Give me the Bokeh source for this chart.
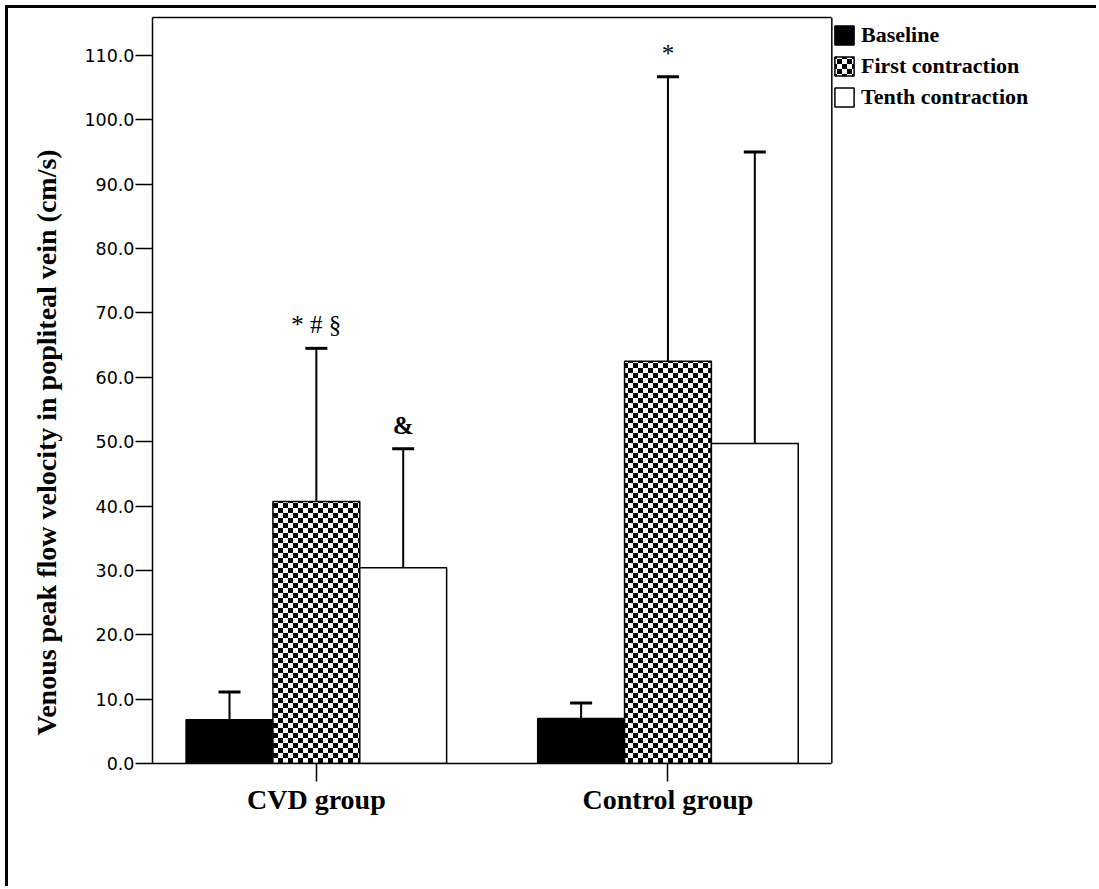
from bokeh.plotting import figure
from bokeh.models import (ColumnDataSource, Range1d, FixedTicker, NumeralTickFormatter,
                          Whisker, TeeHead, Legend, LegendItem, ImageURLTexture,
                          Span, LinearAxis, Title)
from bokeh.core.properties import value
from bokeh.embed import file_html
from bokeh.resources import INLINE

groups = ["CVD group", "Control group"]
series = ["Baseline", "First contraction", "Tenth contraction"]
means = {
    "Baseline": [6.8, 7.0],
    "First contraction": [40.7, 62.5],
    "Tenth contraction": [30.4, 49.7],
}
upper = {
    "Baseline": [11.1, 9.4],
    "First contraction": [64.5, 106.7],
    "Tenth contraction": [48.9, 95.0],
}
marks = {
    "Baseline": ["", ""],
    "First contraction": ["* # §", "*"],
    "Tenth contraction": ["&", ""],
}
y_ticks = [0, 10, 20, 30, 40, 50, 60, 70, 80, 90, 100, 110]
y_title = "Venous peak flow velocity in popliteal vein (cm/s)"

SERIF = "Liberation Serif"
BW = 0.247
X0, X1 = -0.466, 1.466          # extent of the boxed plotting area
X_END = 2.196                   # extra room on the right for the legend

p = figure(width=1091, height=881, output_backend="svg", toolbar_location=None,
           x_range=Range1d(X0, X_END), y_range=Range1d(0, 115.9),
           min_border_left=143, min_border_top=9, min_border_right=11, min_border_bottom=126)
p.styles = {"margin-left": "5px", "margin-top": "5px",
            "border-left": "3px solid black", "border-top": "3px solid black"}
p.xgrid.visible = False
p.ygrid.visible = False
p.outline_line_color = None
p.background_fill_color = "white"

xax = p.below[0]
yax = p.left[0]

checker_svg = ("data:image/svg+xml;utf8,"
               "%3Csvg xmlns='http://www.w3.org/2000/svg' width='10' height='10'%3E"
               "%3Crect width='10' height='10' fill='white'/%3E"
               "%3Crect width='5' height='5' fill='black'/%3E"
               "%3Crect x='5' y='5' width='5' height='5' fill='black'/%3E%3C/svg%3E")
checker = ImageURLTexture(url=checker_svg)

styles = {
    "Baseline": dict(fill_color="black"),
    "First contraction": dict(fill_color="white", hatch_pattern=value("checker"),
                              hatch_extra={"checker": checker}, hatch_scale=10,
                              hatch_color="black"),
    "Tenth contraction": dict(fill_color="white"),
}

items = []
for j, s in enumerate(series):
    xs = [g + (j - 1) * BW for g in range(len(groups))]
    src = ColumnDataSource(dict(x=xs, top=means[s], up=upper[s], lab=marks[s]))
    r = p.vbar(x="x", top="top", bottom=0, width=BW, source=src,
               line_color="black", line_width=1.5, **styles[s])
    items.append(LegendItem(label=s, renderers=[r]))
    w = Whisker(base="x", lower="top", upper="up", source=src, dimension="height",
                line_color="black", line_width=2,
                upper_head=TeeHead(size=22, line_width=3, line_color="black"),
                lower_head=None)
    p.add_layout(w)
    p.text(x="x", y="up", text="lab", source=src, text_align="center",
           text_baseline="bottom", y_offset=-10, text_font=value(SERIF),
           text_font_size="25px",
           text_font_style="normal" if s == "First contraction" else "bold")

legend = Legend(items=items, location=(678, 651), border_line_alpha=0,
                background_fill_alpha=0, margin=0, padding=2, spacing=5,
                glyph_width=24, glyph_height=24, label_height=24, label_standoff=5,
                label_text_font=SERIF, label_text_font_style="bold",
                label_text_font_size="22px", label_text_color="black")
p.add_layout(legend)

yax.ticker = FixedTicker(ticks=y_ticks)
yax.formatter = NumeralTickFormatter(format="0.0")
yax.major_label_text_font = "DejaVu Sans"
yax.major_label_text_font_size = "17.5px"
yax.major_label_standoff = 1
yax.major_tick_out = 17
yax.major_tick_in = 0
yax.minor_tick_out = 0
yax.minor_tick_in = 0

ytitle = Title(text=y_title, align="left", offset=28, standoff=40,
               text_font=SERIF, text_font_style="bold", text_font_size="28px",
               text_color="black")
p.add_layout(ytitle, "left")

xax.bounds = (X0, X1)
xax.ticker = FixedTicker(ticks=list(range(len(groups))))
xax.major_label_overrides = {i: g for i, g in enumerate(groups)}
xax.major_label_text_font = SERIF
xax.major_label_text_font_style = "bold"
xax.major_label_text_font_size = "28px"
xax.major_label_standoff = 2
xax.major_tick_out = 18
xax.major_tick_in = 0
xax.minor_tick_out = 0
xax.minor_tick_in = 0

for ax in (xax, yax):
    ax.axis_line_color = "black"
    ax.axis_line_width = 1.5
    ax.major_tick_line_color = "black"
    ax.major_tick_line_width = 1.5
    ax.major_label_text_color = "black"

# right and top edges of the box
p.add_layout(Span(location=X1, dimension="height", line_color="black", line_width=1.5))
top_ax = LinearAxis(bounds=(X0, X1), ticker=FixedTicker(ticks=[]),
                    major_tick_out=0, major_tick_in=0, minor_tick_out=0, minor_tick_in=0,
                    major_label_text_font_size="0px", major_label_standoff=0,
                    axis_line_color="black", axis_line_width=1.5)
p.add_layout(top_ax, "above")

open("out.html", "w").write(file_html(p, INLINE))
